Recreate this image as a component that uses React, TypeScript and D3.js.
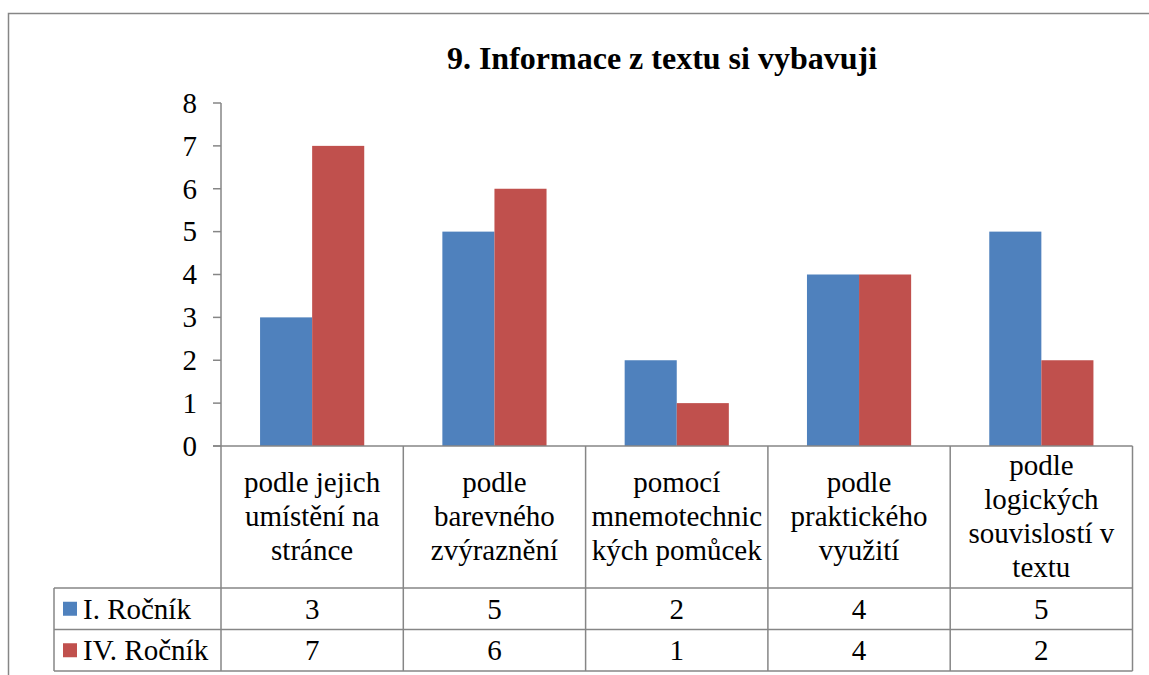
import React from 'react';
import * as d3 from 'd3';

const title = '9. Informace z textu si vybavuji';
const categories = [
  ['podle jejich', 'umístění na', 'stránce'],
  ['podle', 'barevného', 'zvýraznění'],
  ['pomocí', 'mnemotechnic', 'kých pomůcek'],
  ['podle', 'praktického', 'využití'],
  ['podle', 'logických', 'souvislostí v', 'textu'],
];
const seriesNames = ['I. Ročník', 'IV. Ročník'];
const rocnik1 = [3, 5, 2, 4, 5];
const rocnik4 = [7, 6, 1, 4, 2];
const yTicks = [0, 1, 2, 3, 4, 5, 6, 7, 8];
const colors = ['#4f81bd', '#c0504d'];

const lineCol = '#868686';

const plot = { left: 221, right: 1132.5, top: 103, bottom: 446 };
const tableTop = 588, rowH = 41.5, legendLeft = 54;
const tableBottom = tableTop + rowH * 2;

const idx = categories.map((_, i) => String(i));
const x = d3.scaleBand().domain(idx).range([plot.left, plot.right]).padding(0);
const xs = d3.scaleBand().domain(seriesNames).range([0, x.bandwidth()]).paddingInner(0).paddingOuter(0.75);
const y = d3.scaleLinear().domain([0, 8]).range([plot.bottom, plot.top]);

const App = () => {
  const series = [rocnik1, rocnik4];
  const lineH = 34;
  const midLabel = (plot.bottom + tableTop) / 2;

  return (
    <svg width={1149} height={675} fontSize={29} style={{ position: 'absolute', left: 0, top: 0, fontFamily: '"Liberation Serif"' }}>
      {/* outer frame runs past the picture right and bottom */}
      <path d={`M1149,13.5H8.5V675`} fill="none" stroke={lineCol} strokeWidth={1.5} />

      <text x={662} y={69} textAnchor="middle" fontSize={32} fontWeight="bold">{title}</text>

      {seriesNames.map((name, s) => (
        <g key={name}>
          {series[s].map((d, i) => (
            <rect
              key={i}
              x={x(String(i))! + xs(name)!}
              y={y(d)}
              width={xs.bandwidth()}
              height={y(0) - y(d)}
              fill={colors[s]}
            />
          ))}
        </g>
      ))}

      {/* y axis and data table grid */}
      <g stroke={lineCol} strokeWidth={1.5}>
        <line x1={plot.left} x2={plot.left} y1={y(8)} y2={tableBottom} />
        {yTicks.map(t => (
          <line key={t} x1={plot.left - 8} x2={plot.left} y1={y(t)} y2={y(t)} />
        ))}
        <line x1={plot.left - 8} x2={plot.right} y1={plot.bottom} y2={plot.bottom} />
        {[tableTop, tableTop + rowH, tableBottom].map(yy => (
          <line key={yy} x1={legendLeft} x2={plot.right} y1={yy} y2={yy} />
        ))}
        <line x1={legendLeft} x2={legendLeft} y1={tableTop} y2={tableBottom} />
        {idx.map(i => {
          const xx = x(i)! + x.bandwidth();
          return <line key={i} x1={xx} x2={xx} y1={plot.bottom} y2={tableBottom} />;
        })}
      </g>
      {yTicks.map(t => (
        <text key={t} x={plot.left - 24} y={y(t)} dy="0.34em" textAnchor="end">{t}</text>
      ))}

      {/* category labels */}
      {categories.map((lines, i) => {
        const cx = x(String(i))! + x.bandwidth() / 2;
        return (
          <text key={i} textAnchor="middle">
            {lines.map((ln, j) => (
              <tspan key={j} x={cx} y={midLabel + (j - (lines.length - 1) / 2) * lineH} dy="0.3em">{ln}</tspan>
            ))}
          </text>
        );
      })}

      {/* table rows */}
      {seriesNames.map((name, s) => {
        const cy = tableTop + rowH * s + rowH / 2;
        return (
          <g key={name}>
            <rect x={63} y={cy - 7} width={14} height={14} fill={colors[s]} />
            <text x={83} y={cy} dy="0.34em">{name}</text>
            {series[s].map((d, i) => (
              <text key={i} x={x(String(i))! + x.bandwidth() / 2} y={cy} dy="0.34em" textAnchor="middle">{d}</text>
            ))}
          </g>
        );
      })}
    </svg>
  );
};

export default App;
